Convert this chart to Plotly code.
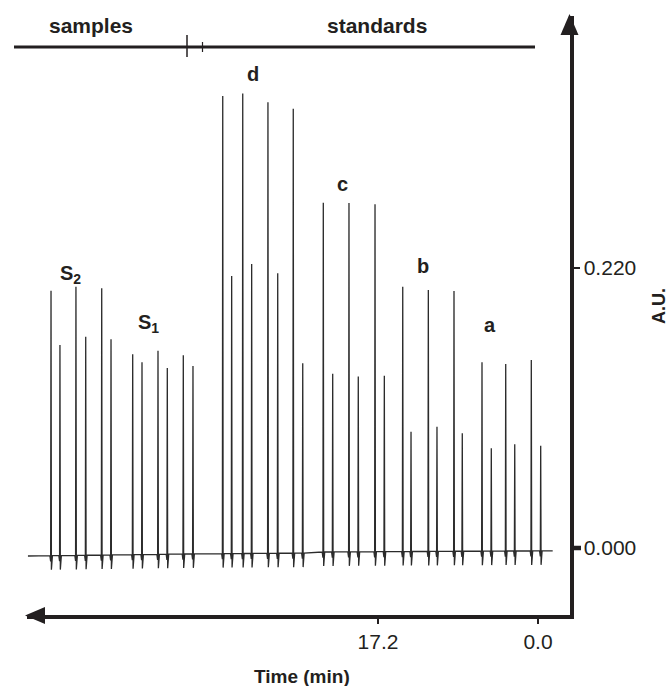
import numpy as np
import plotly.graph_objects as go

# ---- data ----
# peak times (min, axis reversed) and peak heights (A.U.)
peak_time = [52.35, 51.39, 49.67, 48.62, 46.90, 45.90,
             43.57, 42.57, 40.85, 39.85, 38.13, 37.09,
             33.89, 32.93, 31.74, 30.78, 29.03, 27.98, 26.31, 25.29,
             23.08, 22.07, 20.32, 19.32, 17.52, 16.52,
             14.54, 13.65, 11.79, 10.86, 9.03, 8.14,
             6.02, 5.02, 3.47, 2.50, 0.72, -0.29]
peak_height = [0.2022, 0.1595, 0.2053, 0.1660, 0.2041, 0.1640,
               0.1522, 0.1459, 0.1550, 0.1414, 0.1514, 0.1430,
               0.3551, 0.2137, 0.3572, 0.2231, 0.3502, 0.2159, 0.3451, 0.1451,
               0.2713, 0.1370, 0.2711, 0.1348, 0.2700, 0.1354,
               0.2053, 0.0914, 0.2027, 0.0953, 0.2019, 0.0901,
               0.1459, 0.0783, 0.1446, 0.0815, 0.1477, 0.0804]
# baseline level read at a few times
base_time = [54.83, 36.0, 25.0, 24.6, 10.0, -1.58]
base_value = [-0.0063, -0.0045, -0.0040, -0.0032, -0.0026, -0.0022]
dip_depth = 0.011

x_ticks = [17.2, 0.0]
x_ticktext = ["17.2", "0.0"]
y_ticks = [0.0, 0.22]
y_ticktext = ["0.000", "0.220"]

group_labels = ["S<sub>2</sub>", "S<sub>1</sub>", "d", "c", "b", "a"]

# ---- build trace ----
def base_at(t):
    return float(np.interp(-t, [-v for v in base_time], base_value))

xs, ys = [base_time[0]], [base_value[0]]
for t, h in sorted(zip(peak_time, peak_height), key=lambda p: -p[0]):
    b = base_at(t)
    xs += [t + 0.12, t + 0.04, t, t - 0.04, t - 0.15]
    ys += [b, b - dip_depth * 0.4, h, b - dip_depth, b]
xs.append(base_time[-1])
ys.append(base_value[-1])

INK = "#231f20"
FONT = "Liberation Sans, Arial, Helvetica, sans-serif"

OFF = 0  # page body margin removed below
W, H = 670, 686

# plotting region in screen pixels
L, R, T, B = 27, 570, 16, 615

def px(x):  # screen x -> paper
    return (x - OFF) / W

def py(y):  # screen y -> paper
    return (H - (y - OFF)) / H

# data scale: 17.2 -> x=378, 0.0 -> x=538 ; 0 -> y=548, 0.22 -> y=268
sx = (538 - 378) / 17.2
sy = (548 - 268) / 0.22
x_range = [(538 - L) / sx, (538 - R) / sx]
y_range = [(548 - B) / sy, (548 - T) / sy]

fig = go.Figure()
fig.add_trace(go.Scatter(x=xs, y=ys, mode="lines",
                         line=dict(color="#2b2b2b", width=1.3),
                         hoverinfo="skip", showlegend=False))

fig.update_layout(
    width=W, height=H,
    margin=dict(l=0, r=0, t=0, b=0),
    paper_bgcolor="white", plot_bgcolor="white",
    font=dict(family=FONT, color=INK, size=20),
    xaxis=dict(domain=[px(L), px(R)], range=x_range, showgrid=False,
               zeroline=False, showline=True, linecolor=INK, linewidth=3.5,
               tickvals=x_ticks, ticktext=x_ticktext, ticks="outside",
               ticklen=5, tickwidth=1.5, tickcolor=INK,
               tickfont=dict(size=21, family=FONT, color=INK),
               ticklabelstandoff=0),
    yaxis=dict(domain=[py(B), py(T)], range=y_range, side="right",
               showgrid=False, zeroline=False, showline=True, linecolor=INK,
               linewidth=3.5, tickvals=y_ticks, ticktext=y_ticktext,
               ticks="outside", ticklen=6, tickwidth=1.5, tickcolor=INK,
               tickfont=dict(size=21, family=FONT, color=INK),
               ticklabelstandoff=0),
)

shapes = [
    # up arrow head on y axis
    dict(type="path", xref="paper", yref="paper",
         path=f"M {px(569.5)} {py(14)} L {px(560.5)} {py(35)} L {px(578.5)} {py(35)} Z",
         fillcolor=INK, line=dict(width=0)),
    # left arrow head on x axis
    dict(type="path", xref="paper", yref="paper",
         path=f"M {px(25)} {py(615.5)} L {px(45)} {py(607)} L {px(45)} {py(624)} Z",
         fillcolor=INK, line=dict(width=0)),
    # thick tick at 0.000
    dict(type="line", xref="paper", yref="y", x0=px(570), x1=px(581), y0=0, y1=0,
         line=dict(color=INK, width=4.5)),
    # top bar
    dict(type="line", xref="paper", yref="paper", x0=px(14), x1=px(535),
         y0=py(47), y1=py(47), line=dict(color=INK, width=3)),
    dict(type="line", xref="paper", yref="paper", x0=px(187), x1=px(187),
         y0=py(35), y1=py(57), line=dict(color=INK, width=1.5)),
    dict(type="line", xref="paper", yref="paper", x0=px(202.5), x1=px(202.5),
         y0=py(42), y1=py(52), line=dict(color=INK, width=1.2)),
]
fig.update_layout(shapes=shapes)

ann = []
def text(x, y, s, size=20, **kw):
    ann.append(dict(x=px(x), y=py(y), xref="paper", yref="paper", text=s,
                    showarrow=False, xanchor="center", yanchor="middle",
                    font=dict(size=size, family=FONT, color=INK), **kw))

text(91, 25, "<b>samples</b>", size=21)
text(377, 25, "<b>standards</b>", size=21)
label_pos = [(70, 274), (148, 324), (253, 74), (342, 184), (423, 266), (490, 325)]
for (x, y), s in zip(label_pos, group_labels):
    text(x, y, f"<b>{s}</b>", size=20)
text(659, 306, "<b>A.U.</b>", size=18, textangle=-90)
text(302, 676, "<b>Time (min)</b>", size=19)
fig.update_layout(annotations=ann)

fig.write_html(
    "out.html",
    config={"displayModeBar": False, "staticPlot": True},
    post_script="document.body.style.margin='0px';document.body.style.overflow='hidden';",
)
